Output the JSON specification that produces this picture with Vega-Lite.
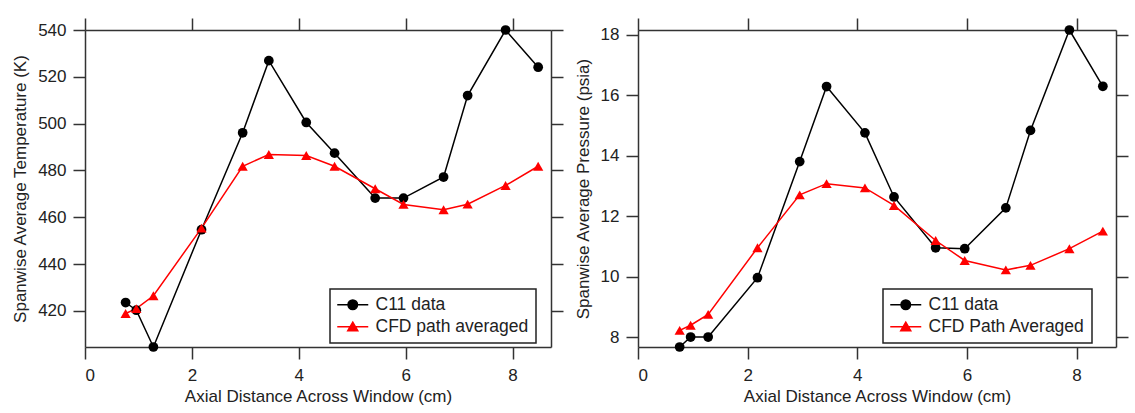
{
  "$schema": "https://vega.github.io/schema/vega-lite/v6.json",
  "background": "white",
  "padding": {"left": 11, "top": 17, "right": 5, "bottom": 5},
  "spacing": 10,
  "config": {
    "font": "Liberation Sans",
    "view": {"stroke": null},
    "axis": {
      "grid": false,
      "domainColor": "#333", "domainWidth": 1.5,
      "tickColor": "#333", "tickWidth": 1.5, "tickSize": 12,
      "labelFont": "Liberation Sans", "labelFontSize": 17, "labelColor": "#222",
      "titleFont": "Liberation Sans", "titleFontSize": 17, "titleColor": "#222", "titleFontWeight": "normal"
    },
    "legend": {
      "orient": "none", "legendX": 245, "legendY": 259,
      "strokeColor": "#222", "strokeWidth": 1.5, "fillColor": "white",
      "padding": 7, "labelFont": "Liberation Sans", "labelFontSize": 17.5, "labelColor": "#222",
      "symbolSize": 100, "symbolStrokeWidth": 1.5,
      "labelOffset": 14, "symbolOffset": 7, "rowPadding": 3, "title": null
    }
  },
  "datasets": {
    "temp": [
      {"x": 0.76, "series": "C11 data", "v": 423.6},
      {"x": 0.96, "series": "C11 data", "v": 420.3},
      {"x": 1.28, "series": "C11 data", "v": 404.6},
      {"x": 2.18, "series": "C11 data", "v": 454.7},
      {"x": 2.95, "series": "C11 data", "v": 496.1},
      {"x": 3.44, "series": "C11 data", "v": 526.9},
      {"x": 4.14, "series": "C11 data", "v": 500.5},
      {"x": 4.67, "series": "C11 data", "v": 487.4},
      {"x": 5.43, "series": "C11 data", "v": 468.2},
      {"x": 5.96, "series": "C11 data", "v": 468.2},
      {"x": 6.71, "series": "C11 data", "v": 477.2},
      {"x": 7.16, "series": "C11 data", "v": 512.0},
      {"x": 7.87, "series": "C11 data", "v": 540.0},
      {"x": 8.48, "series": "C11 data", "v": 524.1},
      {"x": 0.76, "series": "CFD path averaged", "v": 418.9},
      {"x": 0.96, "series": "CFD path averaged", "v": 421.0},
      {"x": 1.28, "series": "CFD path averaged", "v": 426.5},
      {"x": 2.18, "series": "CFD path averaged", "v": 455.4},
      {"x": 2.95, "series": "CFD path averaged", "v": 481.8},
      {"x": 3.44, "series": "CFD path averaged", "v": 486.8},
      {"x": 4.14, "series": "CFD path averaged", "v": 486.4},
      {"x": 4.67, "series": "CFD path averaged", "v": 481.8},
      {"x": 5.43, "series": "CFD path averaged", "v": 472.2},
      {"x": 5.96, "series": "CFD path averaged", "v": 465.5},
      {"x": 6.71, "series": "CFD path averaged", "v": 463.2},
      {"x": 7.16, "series": "CFD path averaged", "v": 465.6},
      {"x": 7.87, "series": "CFD path averaged", "v": 473.6},
      {"x": 8.48, "series": "CFD path averaged", "v": 481.8}
    ],
    "press": [
      {"x": 0.76, "series": "C11 data", "v": 7.67},
      {"x": 0.96, "series": "C11 data", "v": 8.0},
      {"x": 1.28, "series": "C11 data", "v": 8.0},
      {"x": 2.18, "series": "C11 data", "v": 9.96},
      {"x": 2.95, "series": "C11 data", "v": 13.8},
      {"x": 3.44, "series": "C11 data", "v": 16.28},
      {"x": 4.14, "series": "C11 data", "v": 14.75},
      {"x": 4.67, "series": "C11 data", "v": 12.63},
      {"x": 5.43, "series": "C11 data", "v": 10.95},
      {"x": 5.96, "series": "C11 data", "v": 10.92},
      {"x": 6.71, "series": "C11 data", "v": 12.27},
      {"x": 7.16, "series": "C11 data", "v": 14.83},
      {"x": 7.87, "series": "C11 data", "v": 18.15},
      {"x": 8.48, "series": "C11 data", "v": 16.29},
      {"x": 0.76, "series": "CFD Path Averaged", "v": 8.22},
      {"x": 0.96, "series": "CFD Path Averaged", "v": 8.39},
      {"x": 1.28, "series": "CFD Path Averaged", "v": 8.75},
      {"x": 2.18, "series": "CFD Path Averaged", "v": 10.95},
      {"x": 2.95, "series": "CFD Path Averaged", "v": 12.7},
      {"x": 3.44, "series": "CFD Path Averaged", "v": 13.07},
      {"x": 4.14, "series": "CFD Path Averaged", "v": 12.93},
      {"x": 4.67, "series": "CFD Path Averaged", "v": 12.35},
      {"x": 5.43, "series": "CFD Path Averaged", "v": 11.19},
      {"x": 5.96, "series": "CFD Path Averaged", "v": 10.53},
      {"x": 6.71, "series": "CFD Path Averaged", "v": 10.22},
      {"x": 7.16, "series": "CFD Path Averaged", "v": 10.37},
      {"x": 7.87, "series": "CFD Path Averaged", "v": 10.92},
      {"x": 8.48, "series": "CFD Path Averaged", "v": 11.5}
    ]
  },
  "hconcat": [
    {
      "width": 466, "height": 317,
      "data": {"name": "temp"},
      "resolve": {"axis": {"x": "independent", "y": "independent"}},
      "layer": [
        {
          "mark": {"type": "line", "strokeWidth": 1.5},
          "encoding": {
            "x": {"field": "x", "type": "quantitative", "scale": {"domain": [0, 8.72], "nice": false, "zero": false},
                  "axis": {"orient": "bottom", "title": "Axial Distance Across Window (cm)", "values": [0, 2, 4, 6, 8], "labelPadding": 8, "titlePadding": 5}},
            "y": {"field": "v", "type": "quantitative", "scale": {"domain": [404.6, 540], "nice": false, "zero": false},
                  "axis": {"orient": "left", "title": "Spanwise Average Temperature (K)", "values": [420, 440, 460, 480, 500, 520, 540], "labelPadding": 7, "titlePadding": 8}},
            "color": {"field": "series", "type": "nominal", "scale": {"domain": ["C11 data", "CFD path averaged"], "range": ["#000000", "#ff0000"]},
                      "legend": {"encode": {"symbols": {"update": {
                        "shape": {"signal": "datum.value === 'C11 data' ? 'M-3.1,0H3.1M0.95,0A0.95,0.95,0,1,1,-0.95,0A0.95,0.95,0,1,1,0.95,0Z' : 'M-3.1,0H3.1M0,-0.9L1,0.8L-1,0.8Z'"},
                        "fill": {"signal": "datum.value === 'C11 data' ? '#000000' : '#ff0000'"},
                        "stroke": {"signal": "datum.value === 'C11 data' ? '#000000' : '#ff0000'"},
                        "strokeWidth": {"value": 1.5},
                        "opacity": {"value": 1}}}}}}
          }
        },
        {
          "transform": [{"filter": "datum.series === 'C11 data'"}],
          "mark": {"type": "point", "filled": true, "opacity": 1, "size": 95, "shape": "circle"},
          "encoding": {
            "x": {"field": "x", "type": "quantitative", "axis": {"orient": "top", "labels": false, "title": null, "values": [0, 2, 4, 6, 8]}},
            "y": {"field": "v", "type": "quantitative", "axis": {"orient": "right", "labels": false, "title": null, "values": [420, 440, 460, 480, 500, 520, 540]}},
            "color": {"field": "series", "type": "nominal"}
          }
        },
        {
          "transform": [{"filter": "datum.series !== 'C11 data'"}],
          "mark": {"type": "point", "filled": true, "opacity": 1, "size": 105, "shape": "triangle-up"},
          "encoding": {
            "x": {"field": "x", "type": "quantitative", "axis": null},
            "y": {"field": "v", "type": "quantitative", "axis": null},
            "color": {"field": "series", "type": "nominal"}
          }
        }
      ]
    },
    {
      "width": 478, "height": 317,
      "data": {"name": "press"},
      "resolve": {"axis": {"x": "independent", "y": "independent"}},
      "layer": [
        {
          "mark": {"type": "line", "strokeWidth": 1.5},
          "encoding": {
            "x": {"field": "x", "type": "quantitative", "scale": {"domain": [0, 8.72], "nice": false, "zero": false},
                  "axis": {"orient": "bottom", "title": "Axial Distance Across Window (cm)", "values": [0, 2, 4, 6, 8], "labelPadding": 8, "titlePadding": 5}},
            "y": {"field": "v", "type": "quantitative", "scale": {"domain": [7.67, 18.15], "nice": false, "zero": false},
                  "axis": {"orient": "left", "title": "Spanwise Average Pressure (psia)", "values": [8, 10, 12, 14, 16, 18], "labelPadding": 7, "titlePadding": 8}},
            "color": {"field": "series", "type": "nominal", "scale": {"domain": ["C11 data", "CFD Path Averaged"], "range": ["#000000", "#ff0000"]},
                      "legend": {"encode": {"symbols": {"update": {
                        "shape": {"signal": "datum.value === 'C11 data' ? 'M-3.1,0H3.1M0.95,0A0.95,0.95,0,1,1,-0.95,0A0.95,0.95,0,1,1,0.95,0Z' : 'M-3.1,0H3.1M0,-0.9L1,0.8L-1,0.8Z'"},
                        "fill": {"signal": "datum.value === 'C11 data' ? '#000000' : '#ff0000'"},
                        "stroke": {"signal": "datum.value === 'C11 data' ? '#000000' : '#ff0000'"},
                        "strokeWidth": {"value": 1.5},
                        "opacity": {"value": 1}}}}}}
          }
        },
        {
          "transform": [{"filter": "datum.series === 'C11 data'"}],
          "mark": {"type": "point", "filled": true, "opacity": 1, "size": 95, "shape": "circle"},
          "encoding": {
            "x": {"field": "x", "type": "quantitative", "axis": {"orient": "top", "labels": false, "title": null, "values": [0, 2, 4, 6, 8]}},
            "y": {"field": "v", "type": "quantitative", "axis": {"orient": "right", "labels": false, "title": null, "values": [8, 10, 12, 14, 16, 18]}},
            "color": {"field": "series", "type": "nominal"}
          }
        },
        {
          "transform": [{"filter": "datum.series !== 'C11 data'"}],
          "mark": {"type": "point", "filled": true, "opacity": 1, "size": 105, "shape": "triangle-up"},
          "encoding": {
            "x": {"field": "x", "type": "quantitative", "axis": null},
            "y": {"field": "v", "type": "quantitative", "axis": null},
            "color": {"field": "series", "type": "nominal"}
          }
        }
      ]
    }
  ],
  "resolve": {"scale": {"color": "independent"}, "legend": {"color": "independent"}}
}
